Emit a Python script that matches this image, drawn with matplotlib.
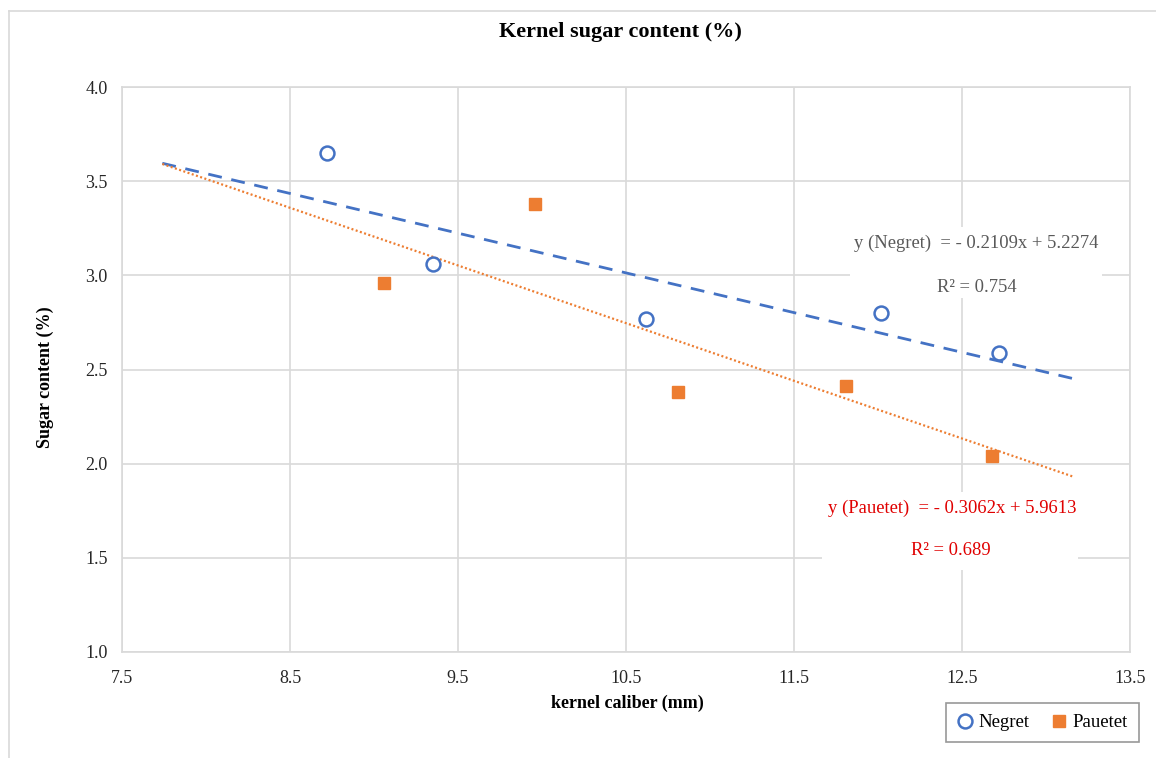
import matplotlib
matplotlib.use("Agg")
import matplotlib.pyplot as plt
from matplotlib.lines import Line2D
from matplotlib.patches import Rectangle
import numpy as np

plt.rcParams["font.family"] = ["Liberation Serif", "DejaVu Serif"]

# Measured samples
negret_x = [8.72, 9.35, 10.62, 12.02, 12.72]
negret_y = [3.65, 3.06, 2.77, 2.80, 2.59]
pauetet_x = [9.06, 9.96, 10.81, 11.81, 12.68]
pauetet_y = [2.96, 3.38, 2.38, 2.41, 2.04]

# Linear fits (slope, intercept, R²)
negret_fit = (-0.2109, 5.2274, 0.754)
pauetet_fit = (-0.3062, 5.9613, 0.689)
trend_x = [7.74, 13.16]

x_ticks = [7.5, 8.5, 9.5, 10.5, 11.5, 12.5, 13.5]
y_ticks = [1.0, 1.5, 2.0, 2.5, 3.0, 3.5, 4.0]

BLUE = "#4472C4"
ORANGE = "#ED7D31"
GRID = "#d9d9d9"

W, H = 1156, 758
fig = plt.figure(figsize=(W / 100, H / 100), dpi=100)
ax = fig.add_axes([122 / W, 1 - 652 / H, 1008 / W, 565 / H])

ax.set_xlim(x_ticks[0], x_ticks[-1])
ax.set_ylim(y_ticks[0], y_ticks[-1])
ax.set_xticks(x_ticks)
ax.set_yticks(y_ticks)
ax.set_xticklabels([f"{v:.1f}" for v in x_ticks])
ax.set_yticklabels([f"{v:.1f}" for v in y_ticks])
ax.tick_params(length=0, labelsize=13, colors="#262626")
ax.tick_params(axis="y", pad=10.5)
ax.tick_params(axis="x", pad=13)
ax.grid(True, color=GRID, linewidth=1.2, zorder=0)
ax.set_axisbelow(True)
for s in ax.spines.values():
    s.set_color(GRID)
    s.set_linewidth(1.2)

# white label panels behind the fit equations
def panel(x0, y0, x1, y1):
    ax.add_patch(Rectangle((x0, y0), x1 - x0, y1 - y0, transform=ax.transAxes,
                           facecolor="white", edgecolor="none", zorder=1))

panel(0.7222, 0.6265, 0.9722, 0.7522)
panel(0.6944, 0.1451, 0.9484, 0.2832)

# trend lines
tx = np.array(trend_x)
ax.plot(tx, negret_fit[0] * tx + negret_fit[1], color=BLUE, linewidth=2.0,
        dashes=(5, 3.5), zorder=2)
ax.plot(tx, pauetet_fit[0] * tx + pauetet_fit[1], color=ORANGE, linewidth=1.6,
        linestyle=(0, (0.9, 1.1)), zorder=2)

# data points
ax.plot(negret_x, negret_y, linestyle="none", marker="o", markersize=10,
        markerfacecolor="white", markeredgecolor=BLUE, markeredgewidth=1.8,
        zorder=3, label="Negret")
ax.plot(pauetet_x, pauetet_y, linestyle="none", marker="s", markersize=9,
        markerfacecolor=ORANGE, markeredgecolor=ORANGE, zorder=3,
        label="Pauetet")

# fit equations
def fit_text(slope, intercept, name):
    return f"y ({name})  = - {abs(slope):.4f}x + {intercept:.4f}"

ax.text(0.8477, 0.7239, fit_text(*negret_fit[:2], "Negret"), transform=ax.transAxes,
        ha="center", va="center", fontsize=13.4, color="#595959", zorder=4)
ax.text(0.848, 0.646, f"R² = {negret_fit[2]:.3f}", transform=ax.transAxes,
        ha="center", va="center", fontsize=13.4, color="#595959", zorder=4)
ax.text(0.8234, 0.2549, fit_text(*pauetet_fit[:2], "Pauetet"), transform=ax.transAxes,
        ha="center", va="center", fontsize=13.4, color="#E00000", zorder=4)
ax.text(0.8224, 0.1805, f"R² = {pauetet_fit[2]:.3f}", transform=ax.transAxes,
        ha="center", va="center", fontsize=13.4, color="#E00000", zorder=4)

# titles
fig.text(620 / W, 1 - 32 / H, "Kernel sugar content (%)", ha="center", va="center",
         fontsize=16, fontweight="bold", color="black")
fig.text(627 / W, 1 - 703 / H, "kernel caliber (mm)", ha="center", va="center",
         fontsize=13, fontweight="bold", color="black")
fig.text(45 / W, 1 - 377 / H, "Sugar content (%)", ha="center", va="center",
         rotation=90, fontsize=13, fontweight="bold", color="black")

# outer chart border
fig.add_artist(Line2D([9 / W, 9 / W], [0, 1 - 11 / H], transform=fig.transFigure,
                      color=GRID, linewidth=1.2))
fig.add_artist(Line2D([9 / W, 1], [1 - 11 / H, 1 - 11 / H], transform=fig.transFigure,
                      color=GRID, linewidth=1.2))

leg = fig.legend(loc="center", bbox_to_anchor=(1042.5 / W, 1 - 722.5 / H), ncol=2,
                 fontsize=13.5, frameon=True, fancybox=False, handlelength=0.8,
                 handletextpad=0.3, columnspacing=1.2, borderpad=0.6)
leg.get_frame().set_edgecolor("#7f7f7f")
leg.get_frame().set_linewidth(1.2)

fig.savefig("out.png", dpi=100)
